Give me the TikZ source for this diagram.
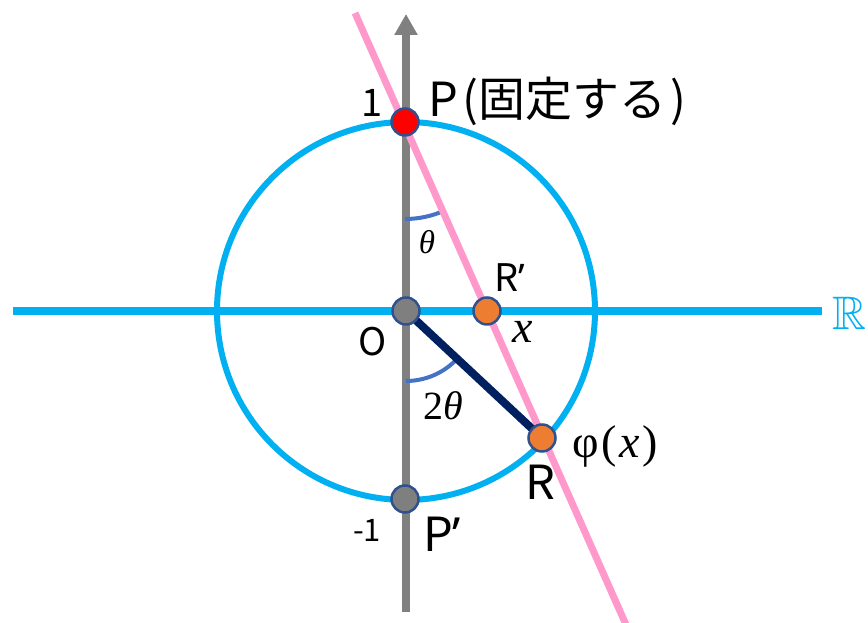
\documentclass[tikz,border=0pt]{standalone}
\usepackage{amssymb}
\usepackage[no-math]{fontspec}
\setmainfont{Noto Sans CJK JP}
\newfontfamily\latinsans{Noto Sans}
\newfontfamily\mathserif{Liberation Serif}
\usetikzlibrary{arrows.meta}
\definecolor{hblue}{HTML}{00B0F0}
\definecolor{axgray}{HTML}{808080}
\definecolor{pinkl}{HTML}{FF99CC}
\definecolor{navyl}{HTML}{002060}
\definecolor{arcblue}{HTML}{4472C4}
\definecolor{ptborder}{HTML}{2F528F}
\definecolor{ptred}{HTML}{FF0000}
\definecolor{ptorange}{HTML}{ED7D31}
\definecolor{ptgray}{HTML}{7F7F7F}
\begin{document}
\begin{tikzpicture}[x=1pt,y=1pt,
  dot/.style={circle,draw=ptborder,line width=2.5pt,minimum size=27pt,inner sep=0pt},
  lbl/.style={inner sep=0pt,outer sep=0pt},
  anglearc/.style={draw=arcblue,line width=4pt}]
\useasboundingbox (0,0) rectangle (868,623);
\coordinate (O) at (406,312);
\coordinate (P) at (405,501);
\coordinate (Pp) at (405,124);
\coordinate (Rp) at (487,312);
\coordinate (R) at (542,185);
\coordinate (axB) at (406,11);
\coordinate (axT) at (406,609);
\coordinate (hL) at (13,312);
\coordinate (hR) at (822,312);
\coordinate (pkT) at (355,610);
\coordinate (pkB) at (627,-4);
% lines
\draw[line width=8pt,hblue] (hL) -- (hR);
\draw[line width=6pt,hblue] (O) circle[radius=189];
\draw[line width=8pt,axgray,-{Triangle[width=22pt,length=21pt]}] (axB) -- (axT);
\draw[anglearc] (P) ++(270:97) arc[start angle=270,end angle=294,radius=97];
\draw[anglearc] (O) ++(270:70) arc[start angle=270,end angle=316,radius=70];
\draw[line width=7pt,pinkl] (pkT) -- (pkB);
\draw[line width=8pt,navyl] (O) -- (R);
% points
\node[dot,fill=ptred] (Pdot) at (P) {};
\node[dot,fill=ptgray] (Odot) at (O) {};
\node[dot,fill=ptgray] (Ppdot) at (Pp) {};
\node[dot,fill=ptorange] (Rpdot) at (Rp) {};
\node[dot,fill=ptorange] (Rdot) at (R) {};
% labels
\node[lbl,anchor=base] (one) at (372,506) {\fontsize{38}{40}\selectfont 1};
\node[lbl,anchor=base west] (Plbl) at (428,506) {\fontsize{47}{50}\selectfont P\kern5pt(固定する\kern4pt)};
\node[lbl,anchor=base west] (Rplbl) at (494,331) {\fontsize{38}{40}\selectfont R{\latinsans ’}};
\node[lbl,anchor=base] (Olbl) at (373,267) {\fontsize{38}{40}\selectfont O};
\node[lbl,anchor=base] (Rlbl) at (540,123) {\fontsize{47}{50}\selectfont R};
\node[lbl,anchor=base west] (Pplbl) at (423,71) {\fontsize{47}{50}\selectfont P{\latinsans ’}};
\node[lbl,anchor=base] (m1) at (367,81) {\fontsize{31}{34}\selectfont -1};
\node[lbl,anchor=base,text=hblue] (RR) at (849,293) {\fontsize{47}{50}\selectfont$\mathbb{R}$};
\node[lbl] (th) at (427,381) {\fontsize{33}{36}\selectfont\mathserif\itshape θ};
\node[lbl] (xl) at (523,291) {\fontsize{46}{48}\selectfont\mathserif\itshape x};
\node[lbl] (tth) at (443,217) {\fontsize{40}{44}\selectfont\mathserif 2{\itshape θ}};
\node[lbl] (phi) at (615,177) {\fontsize{46}{50}\selectfont\mathserif φ\kern3pt(\kern2pt{\itshape x}\kern3pt)};
\end{tikzpicture}
\end{document}
